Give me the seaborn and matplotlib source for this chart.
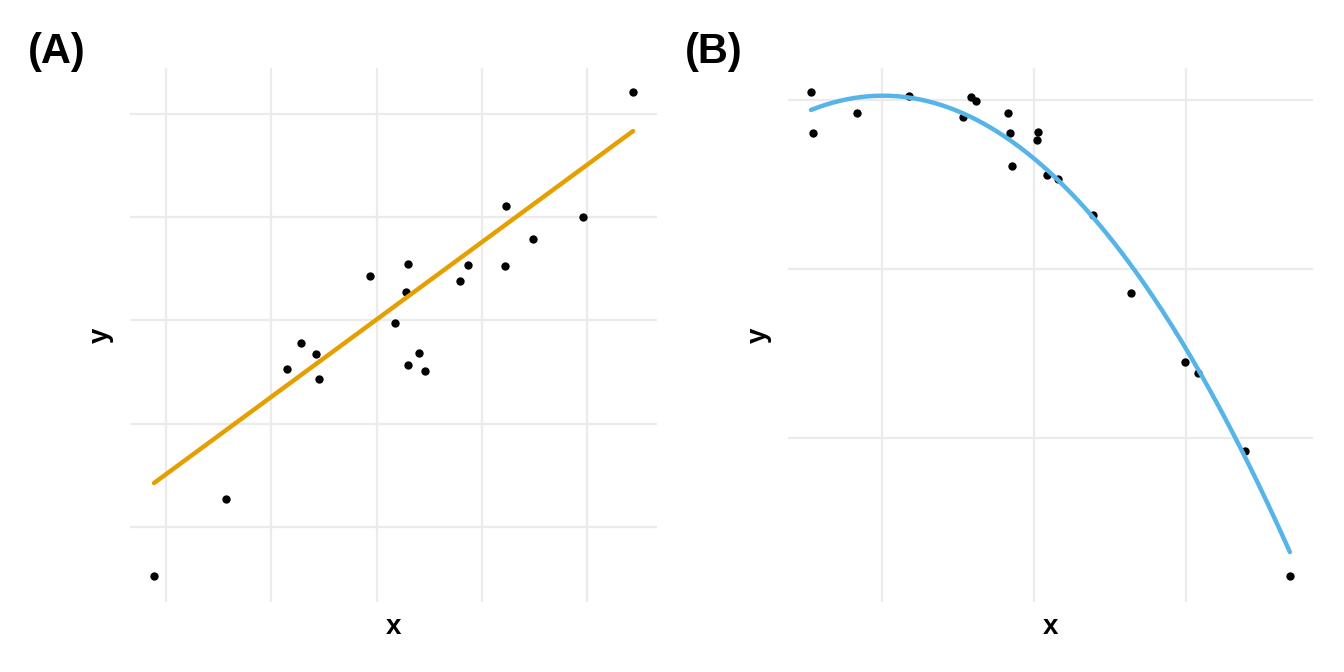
import numpy as np
import pandas as pd
import matplotlib
matplotlib.use("Agg")
import matplotlib.pyplot as plt
import seaborn as sns

# Panel A data (linear)
a_x = [-0.114, 0.570, 1.150, 1.283, 1.425, 1.454, 1.938, 2.176, 2.280, 2.299,
       2.299, 2.404, 2.461, 2.793, 2.869, 3.221, 3.230, 3.487, 3.962, 4.437]
a_y = [-0.475, 0.271, 1.530, 1.782, 1.676, 1.433, 2.431, 1.976, 2.276, 2.547,
       1.569, 1.685, 1.511, 2.383, 2.538, 2.528, 3.109, 2.789, 3.002, 4.213]
# model line for panel A: y = c0 + c1 * x
a_coef = [0.511, 0.749]

# Panel B data (quadratic)
b_x = [0.533, 0.546, 0.836, 1.178, 1.533, 1.586, 1.618, 1.829, 1.842, 1.855,
       2.020, 2.026, 2.086, 2.158, 2.388, 2.638, 2.993, 3.079, 3.388, 3.684]
b_y = [3.047, 2.805, 2.923, 3.024, 2.899, 3.018, 2.994, 2.923, 2.805, 2.609,
       2.763, 2.811, 2.556, 2.533, 2.320, 1.858, 1.450, 1.385, 0.923, 0.183]
# model curve for panel B: y = c0 + c1 * x + c2 * x^2
b_coef = [2.643, 0.7589, -0.3768]

a_ticks_x = [0, 1, 2, 3, 4]
a_ticks_y = [0, 1, 2, 3, 4]
b_ticks_x = [1, 2, 3]
b_ticks_y = [1, 2, 3]

sns.set_theme(style="white")
plt.rcParams['font.family'] = ['Liberation Sans', 'DejaVu Sans']

fig = plt.figure(figsize=(13.44, 6.72), dpi=100)
W, H = 1344, 672
axA = fig.add_axes([130 / W, 1 - 602 / H, 527 / W, 534 / H])
axB = fig.add_axes([788 / W, 1 - 602 / H, 525 / W, 534 / H])

dfA = pd.DataFrame({"x": a_x, "y": a_y})
dfB = pd.DataFrame({"x": b_x, "y": b_y})

def model(coef, xs):
    return sum(c * xs ** i for i, c in enumerate(coef))

xa = np.linspace(min(a_x), max(a_x), 200)
xb = np.linspace(min(b_x), max(b_x), 200)
lineA = pd.DataFrame({"x": xa, "y": model(a_coef, xa)})
lineB = pd.DataFrame({"x": xb, "y": model(b_coef, xb)})

sns.scatterplot(data=dfA, x="x", y="y", ax=axA, color="black", s=36,
                linewidth=0, zorder=2)
sns.lineplot(data=lineA, x="x", y="y", ax=axA, color="#E69F00", lw=3.2,
             zorder=3)
sns.scatterplot(data=dfB, x="x", y="y", ax=axB, color="black", s=36,
                linewidth=0, zorder=2)
sns.lineplot(data=lineB, x="x", y="y", ax=axB, color="#56B4E9", lw=3.2,
             zorder=3)

axA.set_xlim(-0.342, 4.665)
axA.set_ylim(-0.726, 4.445)
axB.set_xlim(0.382, 3.836)
axB.set_ylim(0.0296, 3.189)

for ax, tx, ty in [(axA, a_ticks_x, a_ticks_y), (axB, b_ticks_x, b_ticks_y)]:
    ax.set_xticks(tx)
    ax.set_yticks(ty)
    ax.set_xticklabels([])
    ax.set_yticklabels([])
    ax.tick_params(length=0)
    ax.grid(True, color="#EBEBEB", lw=1.6, zorder=0)
    ax.set_axisbelow(True)
    for s in ax.spines.values():
        s.set_visible(False)
    ax.set_xlabel("x", fontsize=20, fontweight="bold", labelpad=5, color="black")
    ax.set_ylabel("y", fontsize=20, fontweight="bold", labelpad=8, color="black")

fig.text(28 / W, 1 - 52 / H, "(A)", fontsize=30, fontweight="bold",
         va="center", ha="left", color="black")
fig.text(685 / W, 1 - 52 / H, "(B)", fontsize=30, fontweight="bold",
         va="center", ha="left", color="black")

fig.savefig("out.png", dpi=100, facecolor="white")
